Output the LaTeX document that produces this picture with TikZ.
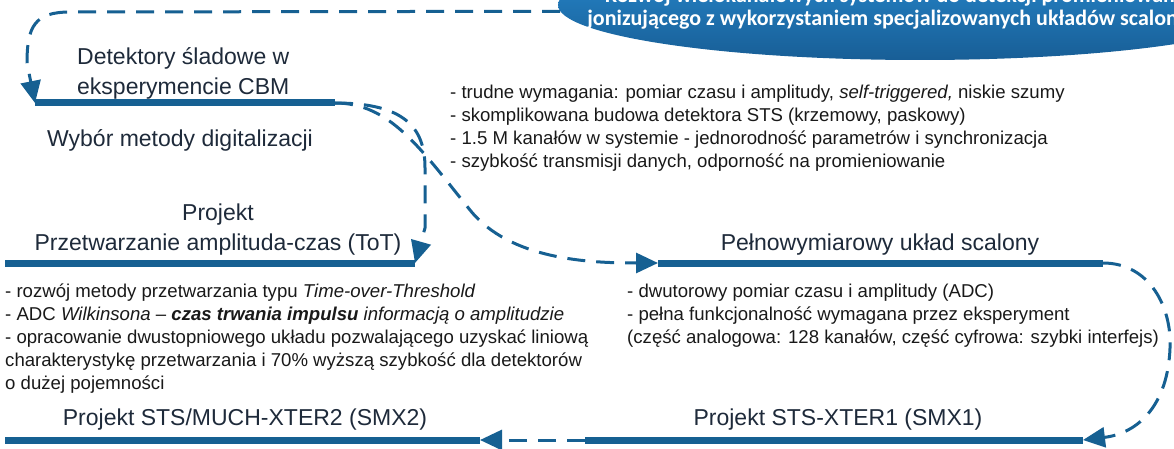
\documentclass[tikz,border=0pt]{standalone}
\usepackage{fontspec}
\setmainfont{Liberation Sans}
\newfontfamily\goalfont{Carlito}
\usepackage{xcolor}
\usetikzlibrary{shapes.geometric, arrows.meta, positioning}

\definecolor{barblue}{RGB}{22,96,146}
\definecolor{goaltop}{RGB}{40,140,210}
\definecolor{goalbot}{RGB}{24,94,150}
\definecolor{ttlgray}{RGB}{30,42,58}
\definecolor{notegray}{RGB}{25,25,25}

\begin{document}
\begin{tikzpicture}[x=1pt, y=1pt, >={Triangle[length=22pt,width=20pt]},
  bar/.style={line width=7pt, draw=barblue},
  link/.style={->, line width=3pt, draw=barblue, dash pattern=on 18pt off 11pt},
  ttl/.style={inner sep=0pt, text=ttlgray, font=\fontsize{23}{30}\selectfont},
  notes/.style={inner sep=0pt, text=notegray, align=left, anchor=north west,
    font=\fontsize{18.6}{23}\selectfont}]
  \useasboundingbox (0,0) rectangle (1174,448);
  \clip (0,0) rectangle (1174,448);

  % goal
  \node[ellipse, minimum width=724pt, minimum height=110pt, inner sep=0pt,
    top color=goaltop, bottom color=goalbot] (goal) at (920,443) {};
  \node[text=white, align=center,
    font=\goalfont\bfseries\fontsize{22}{23}\selectfont] (goaltxt) at (898,440)
    {Rozwój wielokanałowych systemów do detekcji promieniowania\\
     jonizującego z wykorzystaniem specjalizowanych układów scalonych};

  % bars
  \coordinate (b1w) at (35,345);   \coordinate (b1e) at (335,345);
  \coordinate (b2w) at (5,185);    \coordinate (b2e) at (415,185);
  \coordinate (b3w) at (658,185);  \coordinate (b3e) at (1103,185);
  \coordinate (b4w) at (585,8);    \coordinate (b4e) at (1083,8);
  \coordinate (b5w) at (5,8);      \coordinate (b5e) at (480,8);
  \draw[bar] (b1w) -- (b1e);
  \draw[bar] (b2w) -- (b2e);
  \draw[bar] (b3w) -- (b3e);
  \draw[bar] (b4w) -- (b4e);
  \draw[bar] (b5w) -- (b5e);

  % titles
  \node[ttl, align=left, anchor=south west] (det) at (77,349)
    {Detektory śladowe w\\eksperymencie CBM};
  \node[ttl] (wyb) at (180,308) {Wybór metody digitalizacji};
  \node[ttl, align=center, anchor=south] (tot) at (218,193)
    {Projekt\\Przetwarzanie amplituda-czas (ToT)};
  \node[ttl, anchor=base] (full) at (880,198) {Pełnowymiarowy układ scalony};
  \node[ttl, anchor=base] (smx1) at (838,23) {Projekt STS-XTER1 (SMX1)};
  \node[ttl, anchor=base] (smx2) at (245,23) {Projekt STS/MUCH-XTER2 (SMX2)};

  % notes
  \node[notes] (req) at (450,363)
    {- trudne wymagania: pomiar czasu i amplitudy, \textit{self-triggered,} niskie szumy\\
     - skomplikowana budowa detektora STS (krzemowy, paskowy)\\
     - 1.5 M kanałów w systemie - jednorodność parametrów i synchronizacja\\
     - szybkość transmisji danych, odporność na promieniowanie};
  \node[notes] (totn) at (5,164)
    {- rozwój metody przetwarzania typu \textit{Time-over-Threshold}\\
     - ADC \textit{Wilkinsona} – \textbf{\textit{czas trwania impulsu}} \textit{informacją o amplitudzie}\\
     - opracowanie dwustopniowego układu pozwalającego uzyskać liniową\\
     charakterystykę przetwarzania i 70\% wyższą szybkość dla detektorów\\
     o dużej pojemności};
  \node[notes] (fulln) at (627,164)
    {- dwutorowy pomiar czasu i amplitudy (ADC)\\
     - pełna funkcjonalność wymagana przez eksperyment\\
     (część analogowa: 128 kanałów, część cyfrowa: szybki interfejs)};

  % links
  \draw[link] (goal.181.1) -- (70,436) .. controls (35,436) and (27,422) .. (27,385) -- (b1w);
  \draw[link] (b1e) .. controls (405,345) and (425,320) .. (425,280) -- (425,220) -- (b2e);
  \draw[link] (b1e) .. controls (390,345) and (420,300) .. (470,238)
    .. controls (510,188) and (590,185) .. (b3w);
  \draw[link] (b3e) .. controls (1150,185) and (1172,140) .. (1170,100)
    .. controls (1168,45) and (1140,15) .. (b4e);
  \draw[link] (b4w) -- (b5e);
\end{tikzpicture}
\end{document}
